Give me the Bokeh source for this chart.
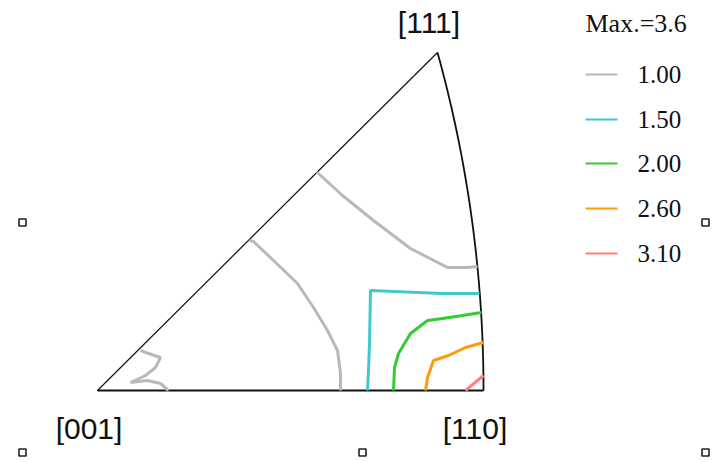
import numpy as np
from bokeh.plotting import figure
from bokeh.models import Range1d
from bokeh.core.properties import value
from bokeh.embed import file_html
from bokeh.resources import INLINE

# ---- data (picture coordinates, y grows downward) ----
corner_names = ["[001]", "[110]", "[111]"]
corner_x = [97, 483, 437]
corner_y = [390, 390, 52]

levels = ["1.00", "1.50", "2.00", "2.60", "3.10"]
level_colors = ["#b9b9b9", "#3ec9cc", "#33cc33", "#ff9a0a", "#ff8080"]
max_label = "Max.=3.6"

# contour lines: (level index, xs, ys)
c1a_x = [140, 148, 160, 155, 145, 130, 147, 160, 168]
c1a_y = [350, 353, 357, 367, 375, 382, 380, 383, 390]
c1b_x = [249, 253, 273, 297, 313, 327, 337, 340, 340]
c1b_y = [240, 241, 260, 283, 307, 330, 350, 373, 390]
c1c_x = [316, 318, 342, 373, 410, 447, 467, 477]
c1c_y = [172, 173, 195, 220, 248, 267, 267, 266]
c2_x = [367, 368, 369, 370, 418, 442, 479]
c2_y = [390, 370, 343, 290, 292, 293, 293]
c3_x = [393, 394, 398, 410, 427, 442, 462, 481]
c3_y = [390, 367, 353, 333, 320, 318, 315, 312]
c4_x = [425, 427, 433, 448, 465, 483]
c4_y = [390, 377, 360, 355, 347, 342]
c5_x = [465, 483]
c5_y = [390, 375]
contours = [(0, c1a_x, c1a_y), (0, c1b_x, c1b_y), (0, c1c_x, c1c_y),
            (1, c2_x, c2_y), (2, c3_x, c3_y), (3, c4_x, c4_y), (4, c5_x, c5_y)]

legend_x0 = [585] * 5
legend_x1 = [617] * 5
legend_y = [74, 119, 163, 208, 253]

handle_x = [22, 705, 22, 362, 705]
handle_y = [222, 222, 452, 452, 452]

# ---- figure: data units == picture pixels ----
W, H = 723, 462
p = figure(width=W, height=H, output_backend="svg", toolbar_location=None,
           x_range=Range1d(0, W), y_range=Range1d(H, 0),
           min_border=0, outline_line_color=None)
p.axis.visible = False
p.grid.visible = False
p.background_fill_color = "white"

# triangle: two straight edges
p.line([corner_x[0], corner_x[1]], [corner_y[0], corner_y[1]], line_color="#111111", line_width=1.8)
p.line([corner_x[0], corner_x[2]], [corner_y[0], corner_y[2]], line_color="#111111", line_width=1.2)
# arc [111]-[110]: circle centred on the [001]-[110] line, through both corners
ax, ay = corner_x[1], corner_y[1]
bx, by = corner_x[2], corner_y[2]
cx = (ax**2 - bx**2 - (by - ay)**2) / (2 * (ax - bx))
r = ax - cx
ang0 = np.arctan2(by - ay, bx - cx)
t = np.linspace(ang0, 0, 80)
p.line(cx + r * np.cos(t), ay + r * np.sin(t), line_color="#111111", line_width=1.8)

for li, xs, ys in contours:
    p.line(xs, ys, line_color=level_colors[li], line_width=3)

# corner labels
p.text(x=[88.5, 474.5, 428.5], y=[428, 428, 22], text=corner_names,
       text_font=value("Liberation Sans"), text_font_size="30px",
       text_align="center", text_baseline="middle", text_color="#111111")

# legend
p.text(x=[585], y=[23], text=[max_label], text_font=value("Liberation Serif"),
       text_font_size="26px", text_baseline="middle", text_color="#111111")
p.segment(x0=legend_x0, y0=legend_y, x1=legend_x1, y1=legend_y,
          line_color=level_colors, line_width=2)
p.text(x=[637] * 5, y=legend_y, text=levels,
       text_font=value("Liberation Serif"), text_font_size="25px",
       text_baseline="middle", text_color="#111111")

# selection handles
p.rect(x=handle_x, y=handle_y, width=7, height=7, fill_color="white",
       line_color="#222222", line_width=1.6)

open("out.html", "w").write(file_html(p, INLINE))
